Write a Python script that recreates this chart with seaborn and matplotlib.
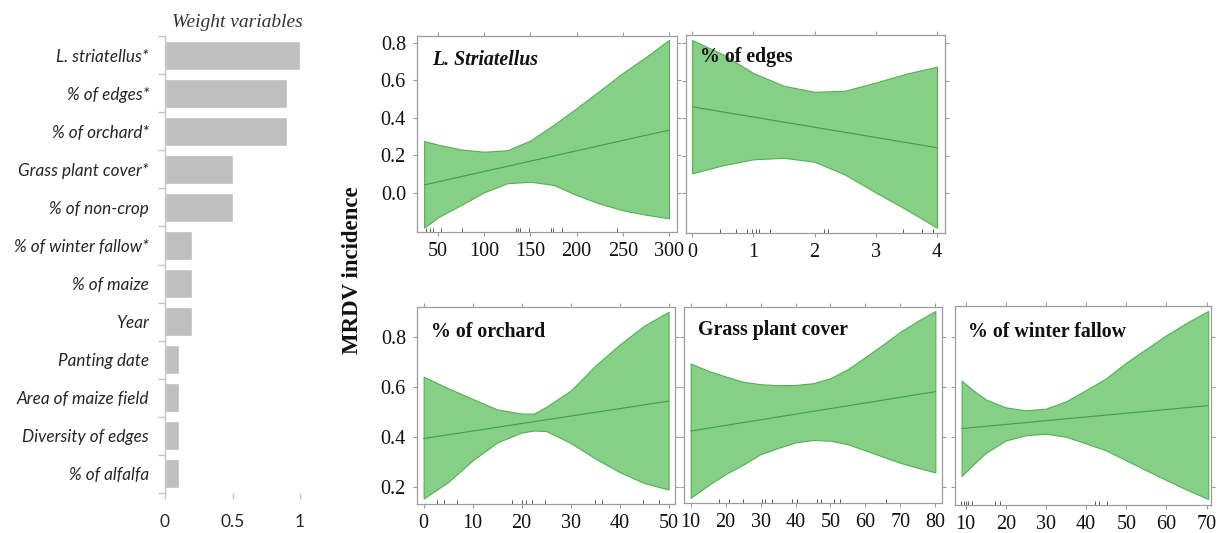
import numpy as np
import pandas as pd
import matplotlib
matplotlib.use("Agg")
import matplotlib.pyplot as plt
import seaborn as sns

# ---------------- data ----------------
variables = ["L. striatellus*", "% of edges*", "% of orchard*", "Grass plant cover*",
             "% of non-crop", "% of winter fallow*", "% of maize", "Year",
             "Panting date", "Area of maize field", "Diversity of edges", "% of alfalfa"]
weights = [1.0, 0.9, 0.9, 0.5, 0.5, 0.2, 0.2, 0.2, 0.1, 0.1, 0.1, 0.1]
weight_ticks = [0, 0.5, 1]
weight_tick_labels = ["0", "0.5", "1"]

# L. Striatellus
ls_x = [35, 50, 75, 100, 125, 150, 175, 200, 225, 250, 275, 300]
ls_hi = [0.277, 0.258, 0.232, 0.220, 0.228, 0.280, 0.363, 0.452, 0.545, 0.640, 0.725, 0.816]
ls_lo = [-0.185, -0.130, -0.064, 0.004, 0.052, 0.060, 0.043, -0.011, -0.057, -0.092, -0.116, -0.135]
ls_fit_x = [35, 300]
ls_fit_y = [0.043, 0.335]
ls_rug = [37, 41, 45, 53, 76, 134, 137, 139, 149, 172, 175, 184, 244]

# % of edges
ed_x = [0, 0.5, 1, 1.5, 2, 2.5, 3, 3.5, 4]
ed_hi = [0.816, 0.740, 0.640, 0.572, 0.540, 0.546, 0.590, 0.637, 0.674]
ed_lo = [0.105, 0.148, 0.180, 0.188, 0.167, 0.098, 0.003, -0.088, -0.185]
ed_fit_x = [0, 4]
ed_fit_y = [0.460, 0.242]
ed_rug = [0.45, 0.72, 0.90, 0.97, 1.05, 1.10, 1.27, 2.15, 2.22, 3.45, 3.75, 3.93]

# % of orchard
or_x = [0, 5, 10, 15, 20, 22.5, 25, 30, 35, 40, 45, 50]
or_hi = [0.641, 0.595, 0.552, 0.510, 0.493, 0.493, 0.520, 0.585, 0.685, 0.770, 0.846, 0.902]
or_lo = [0.152, 0.218, 0.305, 0.377, 0.417, 0.425, 0.423, 0.375, 0.313, 0.258, 0.214, 0.188]
or_fit_x = [0, 50]
or_fit_y = [0.393, 0.543]
or_rug = [2.7, 4.1, 6.8, 18, 20, 20.8, 22.1, 24.8, 35, 36.4, 44.7, 48]

# Grass plant cover
gr_x = [10, 15, 20, 25, 30, 35, 40, 45, 50, 55, 60, 65, 70, 75, 80]
gr_hi = [0.694, 0.665, 0.642, 0.621, 0.611, 0.607, 0.608, 0.615, 0.635, 0.672, 0.720, 0.770, 0.822, 0.865, 0.905]
gr_lo = [0.155, 0.205, 0.250, 0.288, 0.330, 0.355, 0.377, 0.387, 0.384, 0.370, 0.345, 0.320, 0.295, 0.275, 0.257]
gr_fit_x = [10, 80]
gr_fit_y = [0.423, 0.581]
gr_rug = [18, 21, 25, 30.3, 31.4, 33.3, 39, 40.5, 46.2, 47.3, 51, 52.8, 65.8]

# % of winter fallow
wf_x = [9, 12, 15, 20, 25, 30, 35, 40, 45, 50, 55, 60, 65, 70.4]
wf_hi = [0.625, 0.585, 0.550, 0.518, 0.506, 0.513, 0.542, 0.588, 0.635, 0.698, 0.753, 0.808, 0.857, 0.905]
wf_lo = [0.243, 0.290, 0.335, 0.385, 0.406, 0.412, 0.400, 0.373, 0.345, 0.305, 0.265, 0.226, 0.188, 0.150]
wf_fit_x = [9, 70.4]
wf_fit_y = [0.433, 0.525]
wf_rug = [8.9, 9.5, 10.1, 10.7, 11.5, 17.4, 18.6, 42.2, 43.2, 45.3]

top_yticks = [0.0, 0.2, 0.4, 0.6, 0.8]
bot_yticks = [0.2, 0.4, 0.6, 0.8]

# ---------------- style ----------------
sns.set_theme(style="white")
plt.rcParams['font.family'] = ['Liberation Serif', 'DejaVu Serif']

FILL = "#86cf86"
EDGE = "#55b055"
LINE = "#3f9f3f"
SPINE = "#9c9c9c"

W, H = 1225, 533
fig = plt.figure(figsize=(W / 100, H / 100), dpi=100)


def box(l, r, t, b):
    return [l / W, 1 - b / H, (r - l) / W, (b - t) / H]


# ---------------- bar chart ----------------
axb = fig.add_axes(box(165, 302.7, 36, 493))
dfw = pd.DataFrame({"var": variables, "w": weights})
sns.barplot(data=dfw, x="w", y="var", orient="h", color="#bfbfbf", saturation=1,
            width=0.76, ax=axb)
axb.set_xlim(0, 1.02)
axb.set_ylim(len(variables) - 0.5, -0.5)
axb.set_xlabel("")
axb.set_ylabel("")
for s in ["top", "right", "bottom"]:
    axb.spines[s].set_visible(False)
axb.spines["left"].set_color("#c4c4c4")
axb.spines["left"].set_linewidth(1.0)
axb.set_yticks(range(len(variables)))
axb.set_yticklabels(variables, family=["Lato", "DejaVu Sans"], style="italic",
                    fontsize=12.3, color="#262626")
axb.set_yticks(np.arange(-0.5, len(variables), 1.0), minor=True)
axb.tick_params(axis="y", which="major", length=0, pad=11.5)
axb.tick_params(axis="y", which="minor", length=5, width=1.0, color="#c4c4c4", left=True)
axb.set_xticks(weight_ticks)
axb.set_xticklabels(weight_tick_labels, family=["Lato", "DejaVu Sans"], fontsize=12.5,
                    color="#262626")
axb.tick_params(axis="x", length=4, width=1.0, color="#c4c4c4", bottom=True, pad=11)
fig.text(237 / W, 1 - 22 / H, "Weight variables", ha="center", va="center",
         style="italic", fontsize=14, color="#333333", family="Liberation Serif")


# ---------------- GAM panels ----------------
def panel(rect, x, lo, hi, fx, fy, rug, xlim, ylim, xticks, yticks, title,
          tstyle="normal", ylabels=True, tpos=(0.055, 0.855)):
    ax = fig.add_axes(box(*rect))
    ax.fill_between(x, lo, hi, color=FILL, edgecolor=EDGE, linewidth=0.8, zorder=1)
    sns.lineplot(x=fx, y=fy, ax=ax, color=LINE, linewidth=0.8, zorder=2)
    sns.rugplot(x=rug, ax=ax, height=0.022, color="#555555", linewidth=0.7)
    ax.set_xlim(*xlim)
    ax.set_ylim(*ylim)
    ax.set_xticks(xticks)
    ax.set_xticklabels([str(t) for t in xticks])
    ax.set_yticks(yticks)
    if ylabels:
        ax.set_yticklabels([f"{t:.1f}" for t in yticks])
    else:
        ax.set_yticklabels([])
    for s in ax.spines.values():
        s.set_color(SPINE)
        s.set_linewidth(0.9)
    ax.tick_params(direction="out", length=3, width=0.8, color=SPINE,
                   top=True, right=True, bottom=True, left=True,
                   labeltop=False, labelright=False, labelsize=14.5,
                   labelcolor="#111111")
    ax.tick_params(axis="x", pad=4)
    ax.tick_params(axis="y", pad=5)
    ax.set_xlabel("")
    ax.set_ylabel("")
    ax.text(tpos[0], tpos[1], title, transform=ax.transAxes, fontsize=14.3,
            fontweight="bold", style=tstyle, ha="left", va="baseline", color="#111111")
    return ax


panel((417, 677, 36, 232), ls_x, ls_lo, ls_hi, ls_fit_x, ls_fit_y, ls_rug,
      (27.3, 308.7), (-0.208, 0.837), [50, 100, 150, 200, 250, 300], top_yticks,
      "L. Striatellus", tstyle="italic", ylabels=True, tpos=(0.058, 0.852))
panel((686, 945, 35, 233), ed_x, ed_lo, ed_hi, ed_fit_x, ed_fit_y, ed_rug,
      (-0.1, 4.13), (-0.213, 0.843), [0, 1, 2, 3, 4], top_yticks,
      "% of edges", ylabels=False, tpos=(0.054, 0.864))
panel((417, 675, 307, 504), or_x, or_lo, or_hi, or_fit_x, or_fit_y, or_rug,
      (-1.35, 51.3), (0.130, 0.921), [0, 10, 20, 30, 40, 50], bot_yticks,
      "% of orchard", ylabels=True, tpos=(0.054, 0.85))
panel((684, 942, 307, 503), gr_x, gr_lo, gr_hi, gr_fit_x, gr_fit_y, gr_rug,
      (8.1, 81.9), (0.134, 0.921), [10, 20, 30, 40, 50, 60, 70, 80], bot_yticks,
      "Grass plant cover", ylabels=False, tpos=(0.055, 0.855))
panel((955, 1211, 306, 505), wf_x, wf_lo, wf_hi, wf_fit_x, wf_fit_y, wf_rug,
      (7.35, 71.1), (0.126, 0.925), [10, 20, 30, 40, 50, 60, 70], bot_yticks,
      "% of winter fallow", ylabels=False, tpos=(0.052, 0.846))

fig.text(353 / W, 1 - 270 / H, "MRDV incidence", rotation=90, ha="center", va="center",
         fontsize=16.5, fontweight="bold", color="#111111")

fig.savefig("out.png", dpi=100)
